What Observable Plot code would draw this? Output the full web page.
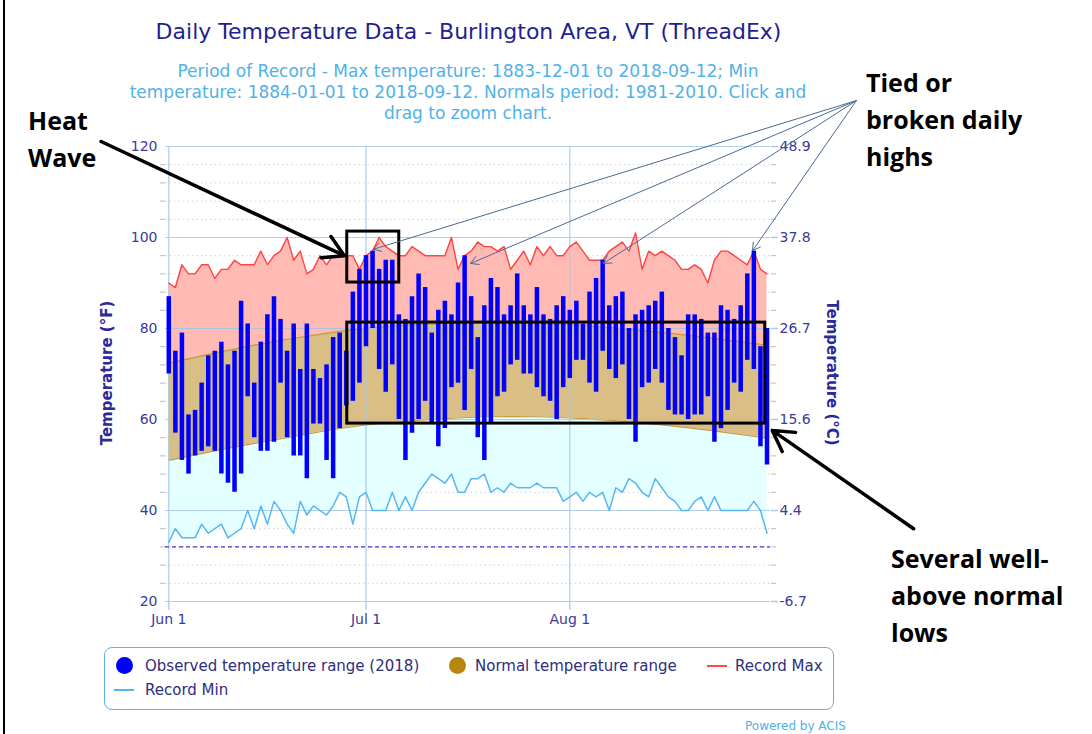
<!DOCTYPE html>
<html><head><meta charset="utf-8">
<script src="https://cdn.jsdelivr.net/npm/d3@7"></script>
<script src="https://cdn.jsdelivr.net/npm/@observablehq/plot@0.6"></script>
<style>
body{margin:0;background:#fff;}
#wrap{position:relative;width:1092px;height:734px;overflow:hidden;font-family:"DejaVu Sans",sans-serif;background:#fff;}
#chart{position:absolute;left:0;top:0;}
.t{position:absolute;white-space:nowrap;}
.ann{position:absolute;white-space:nowrap;font-family:"Open Sans",sans-serif;font-weight:700;font-size:25px;line-height:37px;color:#000;}
.leg{position:absolute;font-size:15px;color:#2e2e80;white-space:nowrap;}
</style></head><body><div id="wrap">
<div style="position:absolute;left:3px;top:0;width:2px;height:734px;background:#000"></div>
<div id="chart"></div>
<div class="t" style="left:0;width:937px;text-align:center;top:19px;font-size:22px;color:#1f1f8f">Daily Temperature Data - Burlington Area, VT (ThreadEx)</div>
<div class="t" style="left:0;width:936px;text-align:center;top:61px;font-size:17px;line-height:21px;color:#4fb2e8">Period of Record - Max temperature: 1883-12-01 to 2018-09-12; Min<br>temperature: 1884-01-01 to 2018-09-12. Normals period: 1981-2010. Click and<br>drag to zoom chart.</div>
<div class="t" style="left:107px;top:373px;transform:translate(-50%,-50%) rotate(-90deg);font-size:15px;font-weight:bold;color:#2a2a9a">Temperature (°F)</div>
<div class="t" style="left:832px;top:373px;transform:translate(-50%,-50%) rotate(90deg);font-size:15px;font-weight:bold;color:#2a2a9a">Temperature (°C)</div>
<div style="position:absolute;left:104px;top:647px;width:728px;height:61px;border:1.5px solid #5ab4e6;border-radius:8px;"></div>
<div style="position:absolute;left:116px;top:657px;width:17px;height:17px;border-radius:50%;background:#0000ff"></div>
<div class="leg" style="left:145px;top:657px">Observed temperature range (2018)</div>
<div style="position:absolute;left:449px;top:657px;width:17px;height:17px;border-radius:50%;background:#b8860b"></div>
<div class="leg" style="left:475px;top:657px">Normal temperature range</div>
<div style="position:absolute;left:707px;top:665px;width:20px;height:2px;background:#ff4b4b"></div>
<div class="leg" style="left:735px;top:657px">Record Max</div>
<div style="position:absolute;left:114px;top:689px;width:20px;height:2px;background:#55b7f2"></div>
<div class="leg" style="left:145px;top:681px">Record Min</div>
<div class="t" style="left:745px;top:719px;font-size:12px;color:#4fb2e8">Powered by ACIS</div>
<div class="ann" style="left:28px;top:102px">Heat<br>Wave</div>
<div class="ann" style="left:866px;top:64px">Tied or<br>broken daily<br>highs</div>
<div class="ann" style="left:891px;top:540px">Several well-<br>above normal<br>lows</div>
</div>
<script>
// Observed 2018 daily high / low (°F), Jun 1 .. Aug 31
const obsHigh = [87,75,79,61,62,68,74,75,77,72,75,86,81,68,77,83,87,82,75,81,71,81,71,69,72,78,79,75,88,93,
  96,97,93,95,95,83,82,87,92,89,79,84,86,83,90,96,87,78,85,91,89,83,85,92,85,83,89,83,82,85,87,
  84,86,81,88,91,95,85,87,88,80,83,84,85,86,88,80,78,74,83,83,82,79,79,85,84,82,85,92,97,76,80];
const obsLow = [70,57,51,48,52,53,54,53,48,46,44,48,65,56,53,53,55,68,56,52,52,47,59,59,51,47,58,63,64,68,
  76,80,71,66,72,60,51,57,60,64,59,54,58,67,68,62,71,56,51,59,65,66,72,73,70,70,67,65,64,60,67,
  69,73,73,68,66,75,71,69,72,60,55,67,68,71,68,62,61,61,60,61,61,65,55,58,62,68,66,73,71,54,50];
// Period-of-record extremes (°F)
const recordMax = [90,89,94,92,92,94,94,91,93,93,95,94,94,94,97,94,96,97,100,95,97,92,93,96,94,96,96,96,96,93,
  96,97,100,98,97,96,96,98,97,96,96,96,96,100,93,96,97,99,98,98,97,98,93,95,97,94,98,96,98,96,96,
  98,99,97,95,95,95,97,98,99,97,101,93,97,96,97,96,95,93,93,94,93,90,95,97,97,96,95,94,97,93,92];
const recordMin = [33,36,34,34,34,37,35,36,37,34,35,36,40,36,41,37,42,40,37,35,42,39,41,40,39,41,44,43,37,43,
  44,40,40,40,44,40,43,40,44,46,48,47,46,48,44,44,47,47,48,44,45,44,46,45,45,45,46,45,45,45,42,
  43,44,42,44,43,44,40,45,44,47,46,44,43,47,45,43,42,40,40,42,43,40,43,40,40,40,40,40,42,40,35];
// 1981-2010 normals, weekly (day offset from Jun 1)
const normalDay  = [0,7,14,21,28,35,42,49,56,63,70,77,84,91];
const normalHigh = [72.4,74.6,76.6,78.3,79.7,80.6,81.1,81.3,81.1,80.6,79.8,78.8,77.6,76.3];
const normalLow  = [51.0,53.1,55.0,56.8,58.4,59.5,60.2,60.6,60.6,60.2,59.5,58.5,57.3,55.9];
// Axis ticks
const majorTicks = [20,40,60,80,100,120];
const minorTicks = d3.range(20,121,4).filter(v => v % 20 !== 0);
const xTickDay = [0,30,61];
const xTickLabel = ["Jun 1","Jul 1","Aug 1"];
const freezing = [32];
// Annotations (day offset, °F)
const boxes = [
  {d1:27.15,d2:35.06,t1:90.1,t2:101.3},
  {d1:27.15,d2:90.73,t1:59.1,t2:81.3}
];
const bigArrows = [
  {d1:-10.3,t1:121.1,d2:26.7,t2:96.0},
  {d1:113.3,t1:36.0,d2:91.8,t2:57.6}
];
const thinArrows = [
  {d1:104.6,t1:130.1,d2:31.1,t2:97.4},
  {d1:104.6,t1:130.1,d2:45.9,t2:94.3},
  {d1:104.6,t1:130.1,d2:66.1,t2:94.3},
  {d1:104.6,t1:130.1,d2:88.8,t2:97.1}
];

const base = new Date(2018,5,1).getTime();
const day = d => new Date(base + d*86400000);
const days = obsHigh.map((h,i)=>({date:day(i), high:h, low:obsLow[i], rmax:recordMax[i], rmin:recordMin[i]}));
const normals = normalDay.map((d,i)=>({date:day(d), high:normalHigh[i], low:normalLow[i]}));
const xTicks = xTickDay.map(day);
const fmtX = d => xTickLabel[xTicks.findIndex(t => +t === +d)];
const split = 65; // hidden beneath the normal band

const chart = Plot.plot({
  width:1092, height:734,
  marginLeft:165, marginRight:322, marginTop:146, marginBottom:133,
  x:{type:"time", domain:[day(-0.5), day(91.53)], label:null},
  y:{domain:[20,120], label:null},
  style:{fontFamily:"DejaVu Sans", fontSize:"14px", background:"none", overflow:"visible"},
  marks:[
    Plot.ruleY(minorTicks, {stroke:"#d2d2d2", strokeDasharray:"1.5,3"}),
    Plot.areaY(days, {x:"date", y1:split, y2:"rmax", fill:"#ffbab4"}),
    Plot.areaY(days, {x:"date", y1:"rmin", y2:split, fill:"#e4ffff"}),
    Plot.areaY(normals, {x:"date", y1:"low", y2:"high", fill:"#d9be86", curve:"natural"}),
    Plot.line(normals, {x:"date", y:"high", stroke:"#c49a3c", strokeWidth:1.2, curve:"natural"}),
    Plot.line(normals, {x:"date", y:"low", stroke:"#c49a3c", strokeWidth:1.2, curve:"natural"}),
    Plot.ruleY(majorTicks, {stroke:"#9fc3e6", strokeOpacity:0.8}),
    Plot.ruleX(xTicks, {stroke:"#a9cbeb", strokeWidth:1.3, strokeOpacity:0.9}),
    Plot.line(days, {x:"date", y:"rmax", stroke:"#ff4444", strokeWidth:1.4}),
    Plot.line(days, {x:"date", y:"rmin", stroke:"#55b7f2", strokeWidth:1.5}),
    Plot.ruleY(freezing, {stroke:"#3b3bd6", strokeDasharray:"4,3", strokeWidth:1.3}),
    Plot.ruleX(days, {x:"date", y1:"low", y2:"high", stroke:"#0000ff", strokeWidth:4.5}),
    // axes
    Plot.axisY({anchor:"left", ticks:minorTicks, tickSize:5, fill:"none", stroke:"#bbbbbb", label:null}),
    Plot.axisY({anchor:"left", ticks:majorTicks, tickSize:0, tickPadding:8, fontSize:14, fill:"#3a3a9a", label:null}),
    Plot.axisY({anchor:"right", ticks:minorTicks, tickSize:5, fill:"none", stroke:"#bbbbbb", label:null}),
    Plot.axisY({anchor:"right", ticks:majorTicks, tickSize:7, fill:"none", stroke:"#a7ccee", strokeWidth:1.5, label:null}),
    Plot.axisY({anchor:"right", ticks:majorTicks, tickSize:0, tickPadding:9, fontSize:14, fill:"#3a3a9a", label:null,
      tickFormat: f => ((f-32)*5/9).toFixed(1)}),
    Plot.axisX({anchor:"bottom", ticks:xTicks, tickSize:9, fill:"none", stroke:"#a7ccee", strokeWidth:1.3, label:null}),
    Plot.axisX({anchor:"bottom", ticks:xTicks, tickSize:0, tickPadding:13, fontSize:14, fill:"#3a3a9a", label:null, tickFormat:fmtX}),
    // annotations
    Plot.rect(boxes, {x1:d=>day(d.d1), x2:d=>day(d.d2), y1:"t1", y2:"t2", fill:"none", stroke:"#000", strokeWidth:3}),
    Plot.arrow(thinArrows, {x1:d=>day(d.d1), y1:"t1", x2:d=>day(d.d2), y2:"t2", stroke:"#4a6a95", strokeWidth:1, headLength:13}),
    Plot.arrow(bigArrows, {x1:d=>day(d.d1), y1:"t1", x2:d=>day(d.d2), y2:"t2", stroke:"#000", strokeWidth:3.5, headLength:10})
  ]
});
document.getElementById("chart").appendChild(chart);
</script></body></html>
